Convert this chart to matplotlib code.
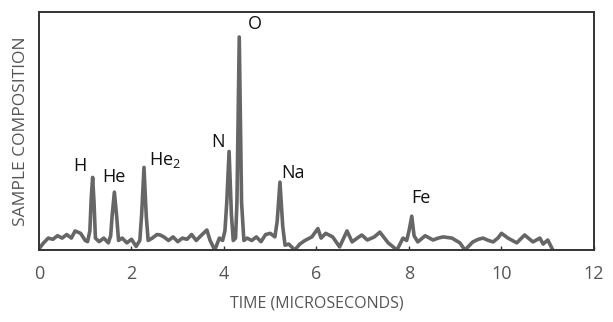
import matplotlib
matplotlib.use("Agg")
import matplotlib.pyplot as plt

# spectrum trace (time in microseconds, relative composition)
time_us = [
    0.00, 0.10, 0.20, 0.30, 0.40, 0.50, 0.60, 0.70, 0.78, 0.90, 1.00, 1.05,
    1.10, 1.13, 1.16, 1.19, 1.22, 1.30, 1.40, 1.50, 1.55,
    1.58, 1.63, 1.68, 1.72, 1.80, 1.90, 2.00, 2.10, 2.18,
    2.22, 2.27, 2.32, 2.36, 2.45, 2.55, 2.62, 2.70, 2.80, 2.90, 3.00, 3.10,
    3.20, 3.30, 3.40, 3.50, 3.63, 3.70, 3.80, 3.90, 3.97,
    4.02, 4.06, 4.11, 4.16, 4.20, 4.25,
    4.28, 4.33, 4.38, 4.43, 4.50, 4.60, 4.70, 4.80, 4.90, 5.00, 5.10,
    5.15, 5.21, 5.27, 5.32, 5.40, 5.53, 5.64, 5.75, 5.90, 6.03, 6.10, 6.20,
    6.35, 6.50, 6.66, 6.77, 6.88, 6.98, 7.10, 7.25, 7.37, 7.55, 7.74, 7.87,
    7.95, 8.00, 8.06, 8.11, 8.19, 8.35, 8.52, 8.63, 8.74, 8.93, 9.10, 9.21,
    9.38, 9.50, 9.60, 9.72, 9.82, 9.92, 10.00, 10.14, 10.33, 10.50, 10.68,
    10.83, 10.90, 11.00, 11.11,
]
composition = [
    0.5, 3.0, 5.0, 4.5, 6.0, 5.0, 6.5, 5.0, 8.0, 7.0, 4.0, 3.5,
    8.0, 22.0, 30.5, 20.0, 5.0, 3.5, 5.0, 3.0, 6.0,
    14.0, 24.3, 14.0, 4.0, 5.0, 3.0, 4.5, 1.5, 4.0,
    15.0, 34.7, 14.0, 4.0, 5.0, 6.5, 6.3, 5.5, 4.0, 5.5, 3.5, 5.0,
    4.5, 6.5, 4.0, 6.0, 8.4, 4.0, 0.0, 5.0, 4.0,
    8.0, 20.0, 41.4, 15.0, 4.0, 5.0,
    20.0, 89.5, 20.0, 4.0, 5.0, 4.0, 5.5, 3.5, 6.5, 7.0, 5.5,
    12.0, 28.5, 10.0, 2.0, 2.5, 0.0, 2.5, 4.0, 5.5, 9.0, 5.0, 7.0,
    5.5, 1.3, 8.0, 3.4, 5.0, 6.3, 4.2, 5.5, 7.5, 3.0, 0.0, 5.0,
    4.0, 8.0, 14.2, 6.0, 3.4, 6.0, 4.2, 5.0, 5.5, 5.0, 3.0, 0.0,
    3.4, 4.5, 5.0, 4.0, 3.4, 5.0, 7.0, 5.0, 3.0, 6.3, 3.4,
    5.0, 2.5, 4.2, 0.0,
]

# peak labels and where they sit
peak_names = ["H", "He", "He$_2$", "N", "O", "Na", "Fe"]
peak_label_t = [0.88, 1.62, 2.72, 3.87, 4.67, 5.49, 8.26]
peak_label_v = [35.3, 30.7, 37.8, 45.4, 95.0, 32.4, 21.8]

x_ticks = [0, 2, 4, 6, 8, 10, 12]

plt.rcParams['font.family'] = ['Open Sans', 'DejaVu Sans']
plt.rcParams['mathtext.fontset'] = 'custom'
plt.rcParams['mathtext.rm'] = 'Open Sans'

fig = plt.figure(figsize=(6.13, 3.22), dpi=100)
ax = fig.add_axes([0.0636, 0.2236, 0.9054, 0.7391])

ax.plot(time_us, composition, color='#666666', linewidth=2.6, solid_joinstyle='round')

for name, t, v in zip(peak_names, peak_label_t, peak_label_v):
    ax.text(t, v, name, ha='center', va='center', fontsize=13, color='#111111')

ax.set_xlim(0, 12)
ax.set_ylim(0, 100)
ax.set_xticks(x_ticks)
ax.set_yticks([])
ax.tick_params(axis='x', direction='in', length=3, width=1, pad=11,
               labelsize=13, labelcolor='#555555', color='#333333')
for sp in ax.spines.values():
    sp.set_color('#333333')
    sp.set_linewidth(1.4)

ax.set_xlabel("TIME (MICROSECONDS)", fontsize=11.5, color='#555555', labelpad=9)
ax.set_ylabel("SAMPLE COMPOSITION", fontsize=12.5, color='#555555', labelpad=7)

fig.savefig("out.png", dpi=100, facecolor='white')
